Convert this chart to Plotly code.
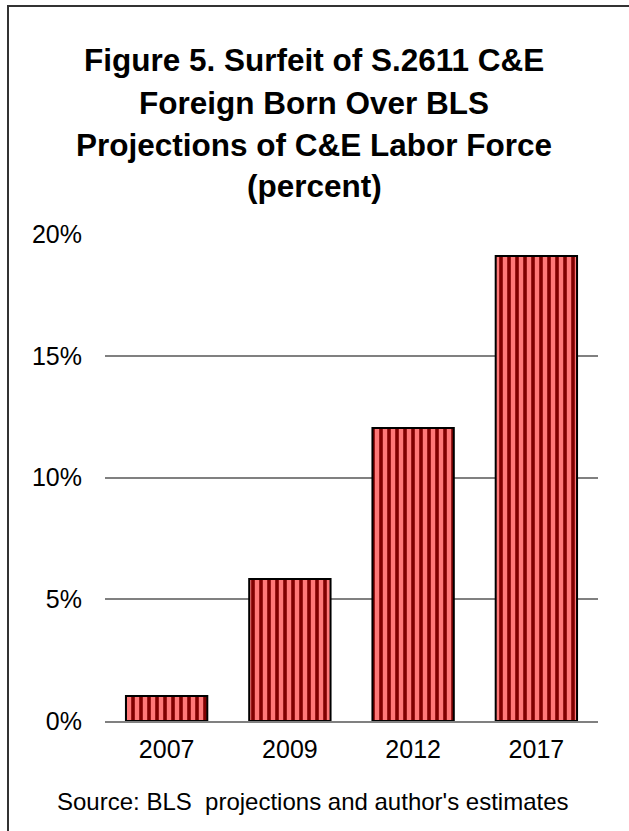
import plotly.graph_objects as go

years = ["2007", "2009", "2012", "2017"]
surfeit_pct = [1.03, 5.83, 12.03, 19.1]
y_ticks = [0, 5, 10, 15, 20]
y_tick_labels = ["0%", "5%", "10%", "15%", "20%"]
title_lines = [
    "Figure 5. Surfeit of S.2611 C&E",
    "Foreign Born Over BLS",
    "Projections of C&E Labor Force",
    "(percent)",
]
source_text = "Source: BLS  projections and author's estimates"

W, H = 629, 831
L, R, T, B = 105, 31, 234, 110
pw, ph = W - L - R, H - T - B

def px_x(px):
    return (px - L) / pw

def px_y(py):
    return (H - B - py) / ph

FONT = "Liberation Sans, Arial, sans-serif"

fig = go.Figure()
fig.add_trace(go.Bar(
    x=years, y=surfeit_pct, width=0.66,
    marker=dict(
        color="#FF7878",
        line=dict(color="black", width=2),
        pattern=dict(shape="|", fgcolor="#800000", bgcolor="#FF7878",
                     size=8, solidity=0.45, fillmode="replace"),
    ),
    showlegend=False, hoverinfo="skip",
))

annotations = []
centers = [60, 103, 145, 186]
for line, cy in zip(title_lines, centers):
    annotations.append(dict(
        text="<b>%s</b>" % line, xref="paper", yref="paper",
        x=px_x(314), y=px_y(cy), xanchor="center", yanchor="middle",
        showarrow=False, font=dict(family=FONT, size=31.5, color="black"),
    ))
annotations.append(dict(
    text=source_text, xref="paper", yref="paper",
    x=px_x(313), y=px_y(801), xanchor="center", yanchor="middle",
    showarrow=False, font=dict(family=FONT, size=24, color="black"),
))

shapes = [dict(
    type="rect", xref="paper", yref="paper",
    x0=px_x(8), x1=px_x(700), y0=px_y(900), y1=px_y(6),
    line=dict(color="#333333", width=2), fillcolor="rgba(0,0,0,0)", layer="below",
)]

fig.update_layout(
    width=W, height=H,
    margin=dict(l=L, r=R, t=T, b=B, pad=0),
    paper_bgcolor="white", plot_bgcolor="white",
    font=dict(family=FONT, size=25, color="black"),
    bargap=0.34,
    annotations=annotations, shapes=shapes,
    xaxis=dict(showgrid=False, showline=True, linecolor="#808080", linewidth=1.5,
               ticks="", tickfont=dict(size=25), ticklabelstandoff=5),
    yaxis=dict(range=[0, 20], tickvals=y_ticks, ticktext=y_tick_labels,
               showgrid=True, gridcolor="#808080", gridwidth=1.5, zeroline=False,
               showline=False, ticks="", tickfont=dict(size=25), ticklabelstandoff=22),
)

fig.write_html("out.html")
